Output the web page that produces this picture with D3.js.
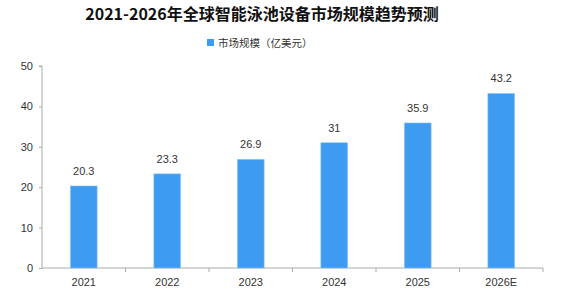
<!DOCTYPE html>
<html><head><meta charset="utf-8">
<script src="https://cdn.jsdelivr.net/npm/d3@7"></script>
<style>body{margin:0;background:#fff}svg{display:block}</style>
</head><body>
<svg id="c" width="580" height="294"></svg>
<script>
const title = "2021-2026年全球智能泳池设备市场规模趋势预测";
const seriesName = "市场规模（亿美元）";
const categories = ["2021","2022","2023","2024","2025","2026E"];
const values = [20.3, 23.3, 26.9, 31, 35.9, 43.2];
const labels = ["20.3","23.3","26.9","31","35.9","43.2"];
const yTicks = [0,10,20,30,40,50];

const svg = d3.select("#c");
const m = {l:42, r:543, t:66, b:268};
const x = d3.scaleBand().domain(categories).range([m.l, m.r]).paddingInner(0.68).paddingOuter(0.34);
const xb = d3.scaleBand().domain(categories).range([m.l, m.r]);
const y = d3.scaleLinear().domain([0,50]).range([m.b, m.t]);
const font = "'Liberation Sans', Arial, 'Noto Sans CJK SC', sans-serif";

svg.append("text").attr("x",262).attr("y",20).attr("text-anchor","middle")
  .attr("font-family","'Noto Sans CJK SC', sans-serif").attr("font-weight","bold")
  .attr("font-size",16).attr("fill","#111").text(title);

const lg = svg.append("g");
lg.append("rect").attr("x",207).attr("y",39).attr("width",7).attr("height",7).attr("fill","#3d9bf2");
lg.append("text").attr("x",218).attr("y",46.5).attr("font-family","'Noto Sans CJK SC', sans-serif")
  .attr("font-size",10.5).attr("fill","#333").text(seriesName);

// y axis
const ya = svg.append("g").attr("transform",`translate(${m.l},0)`)
  .call(d3.axisLeft(y).tickValues(yTicks).tickSize(3).tickPadding(6));
ya.select(".domain").attr("stroke","#aaa").attr("d",`M-3,${m.t}H0V${m.b}`);
ya.selectAll(".tick line").attr("stroke","#aaa");
ya.selectAll("text").attr("font-family",font).attr("font-size",11).attr("fill","#333");

// x axis
const xa = svg.append("g").attr("transform",`translate(0,${m.b})`)
  .call(d3.axisBottom(xb).tickSize(0).tickPadding(10));
xa.select(".domain").attr("stroke","#aaa").attr("d",`M${m.l},0H${m.r}`);
xa.selectAll("text").attr("font-family",font).attr("font-size",11).attr("fill","#333");
xa.selectAll(".sep").data(categories.slice(1).concat(["end"])).enter().append("line")
  .attr("class","sep")
  .attr("x1",(d,i)=> i<categories.length-1 ? xb(d) : m.r)
  .attr("x2",(d,i)=> i<categories.length-1 ? xb(d) : m.r)
  .attr("y1",0).attr("y2",4).attr("stroke","#aaa");

// bars
svg.append("g").selectAll("rect").data(values).enter().append("rect")
  .attr("x",(d,i)=>x(categories[i])).attr("width",x.bandwidth())
  .attr("y",d=>y(d)).attr("height",d=>m.b-y(d))
  .attr("fill","#3d9bf2").attr("stroke","#8cc4f7").attr("stroke-width",0.6);

svg.append("g").selectAll("text").data(values).enter().append("text")
  .attr("x",(d,i)=>x(categories[i])+x.bandwidth()/2).attr("y",d=>y(d)-11)
  .attr("text-anchor","middle").attr("font-family",font).attr("font-size",11).attr("fill","#333")
  .text((d,i)=>labels[i]);
</script>
</body></html>
